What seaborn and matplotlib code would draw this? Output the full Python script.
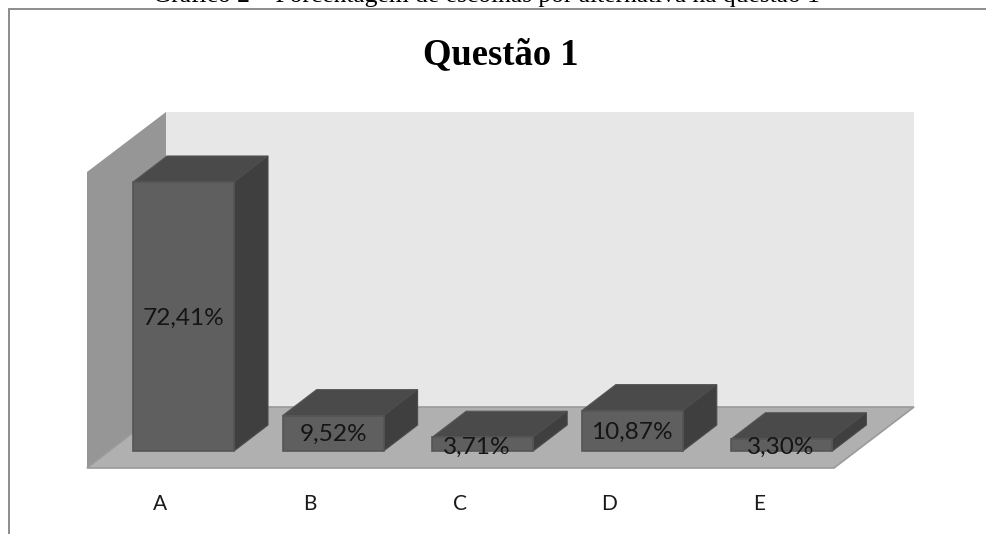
import matplotlib
matplotlib.use("Agg")
import matplotlib.pyplot as plt
from matplotlib.patches import Polygon
import pandas as pd
import seaborn as sns

categories = ["A", "B", "C", "D", "E"]
percentages = [72.41, 9.52, 3.71, 10.87, 3.30]
value_labels = ["72,41%", "9,52%", "3,71%", "10,87%", "3,30%"]
chart_title = "Questão 1"
caption = "Gráfico 2 – Porcentagem de escolhas por alternativa na questão 1"

W, H = 986, 534
PX_PER_CAT = 149.6
PX_PER_PCT = 3.715
ORIGIN_X, ORIGIN_Y = 183.5, 451.0


def dx(px):
    return px / PX_PER_CAT


def dy(px):
    return px / PX_PER_PCT


sns.set_theme(style="white")
fig = plt.figure(figsize=(W / 100, H / 100), dpi=100, facecolor="white")
ax = fig.add_axes([0, 0, 1, 1])

df = pd.DataFrame({"alternativa": categories, "pct": percentages})
sns.barplot(data=df, x="alternativa", y="pct", color="#5f5f5f", saturation=1,
            width=0.675, edgecolor="#555555", linewidth=1.2, ax=ax, zorder=6)

ax.set_xlim(-ORIGIN_X / PX_PER_CAT, (W - ORIGIN_X) / PX_PER_CAT)
ax.set_ylim(-(H - ORIGIN_Y) / PX_PER_PCT, ORIGIN_Y / PX_PER_PCT)
ax.axis("off")

# Chart box walls and floor, anchored to the same scales as the bars
fx0, fx1 = dx(87 - ORIGIN_X), dx(834 - ORIGIN_X)
fy = dy(ORIGIN_Y - 468)
bx0, bx1 = dx(166 - ORIGIN_X), dx(914 - ORIGIN_X)
by = dy(ORIGIN_Y - 407)
wall_top = dy(ORIGIN_Y - 112)
side_top = dy(ORIGIN_Y - 172)

ax.add_patch(Polygon([(bx0, by), (bx1, by), (bx1, wall_top), (bx0, wall_top)],
                     fc="#e7e7e7", ec="none", zorder=1))
ax.add_patch(Polygon([(fx0, fy), (bx0, by), (bx0, wall_top), (fx0, side_top)],
                     fc="#969696", ec="none", zorder=2))
ax.add_patch(Polygon([(fx0, fy), (fx1, fy), (bx1, by), (bx0, by)],
                     fc="#b0b0b0", ec="#9a9a9a", lw=1.2, zorder=3))

# Top and side faces extruded from each bar's front rectangle
depth_x, depth_y = dx(34), dy(26)
for bar in ax.containers[0]:
    x0, x1 = bar.get_x(), bar.get_x() + bar.get_width()
    h = bar.get_height()
    ax.add_patch(Polygon([(x0, h), (x1, h), (x1 + depth_x, h + depth_y), (x0 + depth_x, h + depth_y)],
                         fc="#4a4a4a", ec="#565656", lw=0.8, zorder=5))
    ax.add_patch(Polygon([(x1, 0), (x1 + depth_x, depth_y), (x1 + depth_x, h + depth_y), (x1, h)],
                         fc="#3f3f3f", ec="#4c4c4c", lw=0.8, zorder=5))

label_font = ["Lato", "DejaVu Sans"]
label_offsets_px = [0, 0, -6, 0, -1]
for i, (value, text) in enumerate(zip(percentages, value_labels)):
    y = value / 2 if value > 5 else dy(5)
    ax.text(i + dx(label_offsets_px[i]), y - dy(1.5), text, ha="center", va="center",
            fontsize=17.6, family=label_font, color="#151515", zorder=7)
for i, name in enumerate(categories):
    ax.text(i + dx(-23), dy(ORIGIN_Y - 504), name, ha="center", va="center",
            fontsize=15, family=label_font, color="#1a1a1a", zorder=7)

# Frame around the chart, open at the right and bottom edges
ax.plot([dx(9.5 - ORIGIN_X)] * 2, [dy(ORIGIN_Y - 534), dy(ORIGIN_Y - 8.5)],
        color="#8c8c8c", lw=1.4, zorder=8)
ax.plot([dx(9.5 - ORIGIN_X), dx(986 - ORIGIN_X)], [dy(ORIGIN_Y - 8.5)] * 2,
        color="#8c8c8c", lw=1.4, zorder=8)

ax.text(dx(500.5 - ORIGIN_X), dy(ORIGIN_Y - 55), chart_title, ha="center", va="center",
        fontsize=26.4, fontweight="bold", family="Liberation Serif", color="black", zorder=7)
ax.text(dx(486.5 - ORIGIN_X), dy(ORIGIN_Y - 2), caption, ha="center", va="baseline",
        fontsize=18.4, family="Liberation Serif", color="black", zorder=7)

fig.savefig("out.png", dpi=100)
